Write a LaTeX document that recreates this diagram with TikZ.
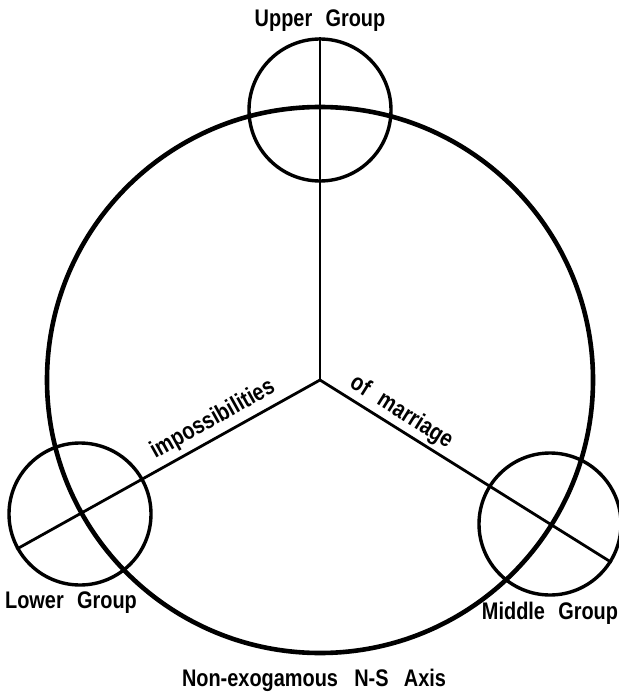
\documentclass[tikz,border=0pt]{standalone}
\usepackage{fontspec}
\setmainfont{Liberation Sans}[FakeStretch=0.83, WordSpace=2.4]
\usetikzlibrary{positioning, calc}
\definecolor{inkblack}{RGB}{0, 0, 0}
\tikzset{
  axisring/.style={circle, draw=inkblack, line width=4.6pt, minimum size=#1, inner sep=0pt},
  axisring/.default=546pt,
  groupring/.style={circle, draw=inkblack, line width=3.4pt, minimum size=#1, inner sep=0pt},
  groupring/.default=142pt,
  spoke/.style={draw=inkblack, line width=2.8pt},
  grouplabel/.style={inner sep=0pt, text=inkblack, font=\bfseries\fontsize{24}{28}\selectfont},
  spokelabel/.style={inner sep=0pt, text=inkblack, sloped, font=\bfseries\fontsize{24}{28}\selectfont},
}

\begin{document}
\begin{tikzpicture}[x=1pt, y=-1pt]
  \useasboundingbox (0,0) rectangle (618,695);

  % the ring and the three groups on it
  \coordinate (hub) at (320,380);
  \node[axisring] (axis) at (hub) {};
  \node[groupring] (upper) at (320,110) {};
  \node[groupring] (lower) at (80,514) {};
  \node[groupring] (middle) at (550,524) {};

  % spokes from the centre through each group
  \draw[spoke] (hub) -- (upper.north);
  \draw[spoke] (hub) -- (lower.209)
    node[spokelabel, pos=0.325, above=5pt] {impossibilities};
  \draw[spoke] (hub) -- (middle.-32)
    node[spokelabel, pos=0.25, above=3pt] {of marriage};

  % labels
  \node[grouplabel, above=6pt of upper] (upperlbl) {Upper Group};
  \node[grouplabel, below=5pt of lower, xshift=-9pt] (lowerlbl) {Lower Group};
  \node[grouplabel, below=5pt of middle] (middlelbl) {Middle Group};
  \node[grouplabel, below=14pt of axis, xshift=-6pt] (axislbl) {Non-exogamous\hspace{3pt} N-S\hspace{2pt} Axis};
\end{tikzpicture}
\end{document}
